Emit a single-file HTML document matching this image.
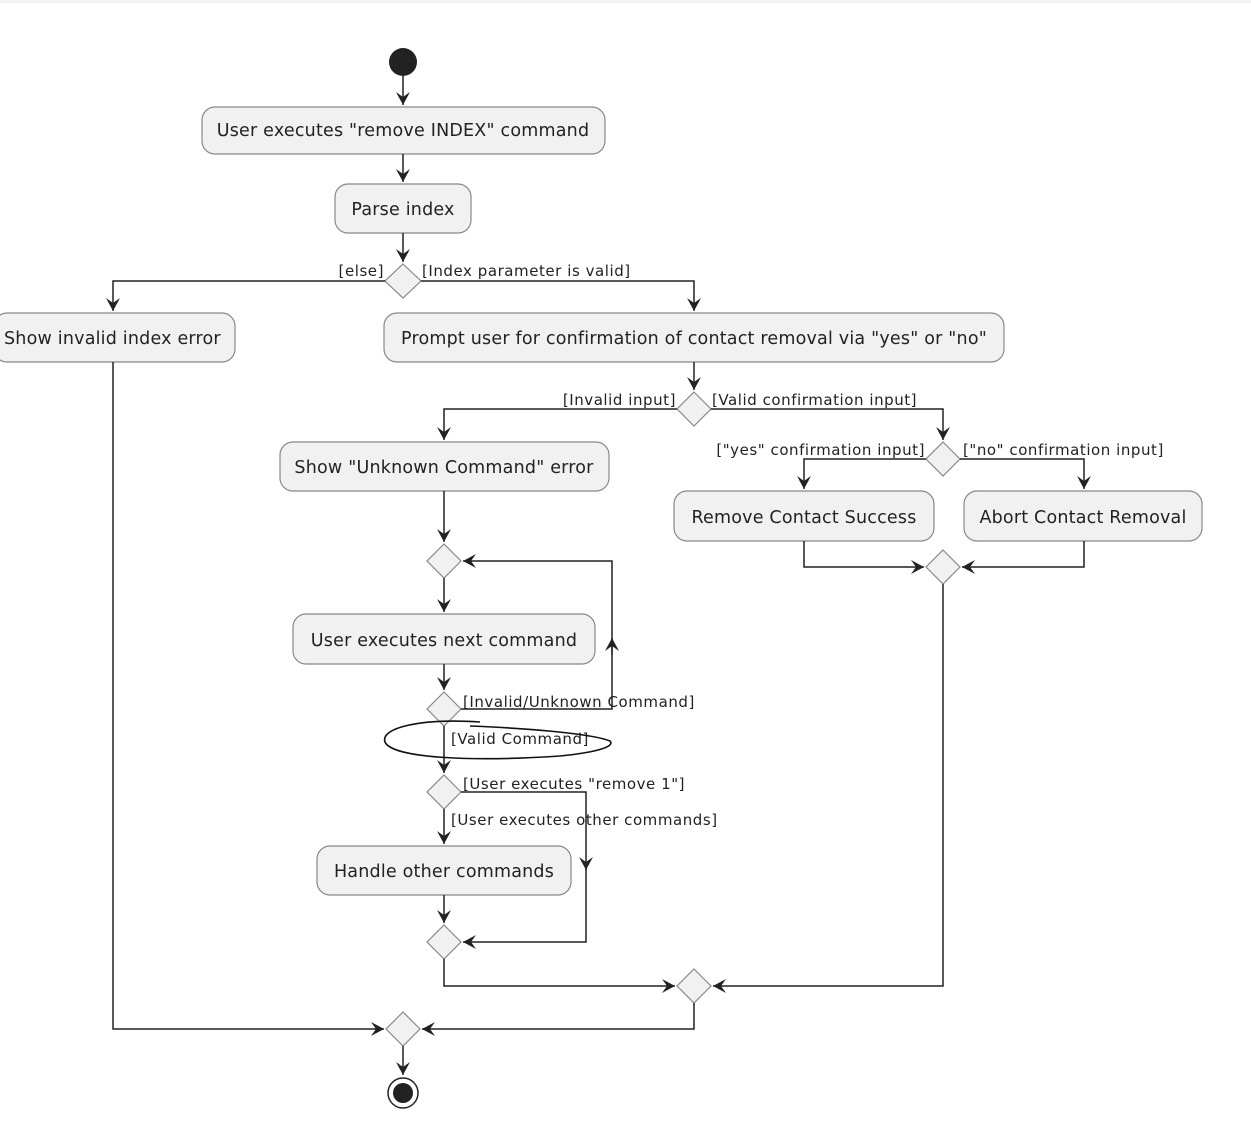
<!DOCTYPE html>
<html><head><meta charset="utf-8"><style>
html,body{margin:0;padding:0;background:#fff;}
svg text{font-family:"DejaVu Sans","Liberation Sans",sans-serif;fill:#222;}
.b{fill:#f1f1f1;stroke:#888;stroke-width:1.2;}
.d{fill:#f1f1f1;stroke:#888;stroke-width:1.2;}
.l{fill:none;stroke:#222;stroke-width:1.5;}
.t{font-size:17.5px;letter-spacing:0.2px;}
.s{font-size:15px;letter-spacing:0.55px;}
</style></head><body>
<svg width="1251" height="1128" viewBox="0 0 1251 1128" xmlns="http://www.w3.org/2000/svg">
<defs><marker id="a" markerWidth="16" markerHeight="16" refX="13" refY="7" orient="auto" markerUnits="userSpaceOnUse"><path d="M0,0 L13,7 L0,14 L5,7 Z" fill="#222"/></marker></defs>
<rect x="0" y="0" width="1251" height="3" fill="#f3f3f3"/>
<circle cx="403" cy="62" r="14" fill="#222"/>
<path class="l" d="M403,76 V105" marker-end="url(#a)"/>
<rect class="b" x="202" y="107" width="403" height="47" rx="13"/>
<text class="t" x="403" y="136" text-anchor="middle">User executes "remove INDEX" command</text>
<path class="l" d="M403,154 V182" marker-end="url(#a)"/>
<rect class="b" x="335" y="184" width="136" height="49" rx="13"/>
<text class="t" x="403" y="215" text-anchor="middle">Parse index</text>
<path class="l" d="M403,233 V262" marker-end="url(#a)"/>
<polygon class="d" points="403,264 421,281 403,298 385,281"/>
<path class="l" d="M385,281 H113 V311" marker-end="url(#a)"/>
<path class="l" d="M421,281 H694 V311" marker-end="url(#a)"/>
<text class="s" x="384" y="276" text-anchor="end">[else]</text>
<text class="s" x="422" y="276">[Index parameter is valid]</text>
<rect class="b" x="-6" y="313" width="241" height="49" rx="13"/>
<text class="t" x="4" y="344">Show invalid index error</text>
<rect class="b" x="384" y="313" width="620" height="49" rx="13"/>
<text class="t" x="694" y="344" text-anchor="middle">Prompt user for confirmation of contact removal via "yes" or "no"</text>
<path class="l" d="M694,362 V390" marker-end="url(#a)"/>
<polygon class="d" points="694,392 711,409 694,426 677,409"/>
<path class="l" d="M677,409 H444 V440" marker-end="url(#a)"/>
<path class="l" d="M711,409 H943 V440" marker-end="url(#a)"/>
<text class="s" x="676" y="405" text-anchor="end">[Invalid input]</text>
<text class="s" x="712" y="405">[Valid confirmation input]</text>
<polygon class="d" points="943,442 960,459 943,476 926,459"/>
<path class="l" d="M926,459 H804 V489" marker-end="url(#a)"/>
<path class="l" d="M960,459 H1084 V489" marker-end="url(#a)"/>
<text class="s" x="925" y="455" text-anchor="end">["yes" confirmation input]</text>
<text class="s" x="963" y="455">["no" confirmation input]</text>
<rect class="b" x="280" y="442" width="329" height="49" rx="13"/>
<text class="t" x="444" y="473" text-anchor="middle">Show "Unknown Command" error</text>
<rect class="b" x="674" y="491" width="260" height="50" rx="13"/>
<text class="t" x="804" y="523" text-anchor="middle">Remove Contact Success</text>
<rect class="b" x="964" y="491" width="238" height="50" rx="13"/>
<text class="t" x="1083" y="523" text-anchor="middle">Abort Contact Removal</text>
<polygon class="d" points="943,550 960,567 943,584 926,567"/>
<path class="l" d="M804,541 V567 H924" marker-end="url(#a)"/>
<path class="l" d="M1084,541 V567 H962" marker-end="url(#a)"/>
<path class="l" d="M943,584 V986 H713" marker-end="url(#a)"/>
<path class="l" d="M444,491 V542" marker-end="url(#a)"/>
<polygon class="d" points="444,544 461,561 444,578 427,561"/>
<path class="l" d="M444,578 V612" marker-end="url(#a)"/>
<rect class="b" x="293" y="614" width="302" height="50" rx="13"/>
<text class="t" x="444" y="646" text-anchor="middle">User executes next command</text>
<path class="l" d="M444,664 V690" marker-end="url(#a)"/>
<polygon class="d" points="444,692 461,709 444,726 427,709"/>
<path class="l" d="M461,709 H612 V640"/>
<path class="l" d="M612,655 V638" marker-end="url(#a)"/>
<path class="l" d="M612,640 V561 H463" marker-end="url(#a)"/>
<text class="s" x="463" y="707">[Invalid/Unknown Command]</text>
<path class="l" d="M444,726 V773" marker-end="url(#a)"/>
<text class="s" x="451" y="744">[Valid Command]</text>
<path d="M480,722 C420,718 380,728 385,742 C392,758 470,762 560,756 C600,752 615,746 610,741 C590,733 520,728 470,726" fill="none" stroke="#111" stroke-width="1.6"/>
<polygon class="d" points="444,775 461,792 444,809 427,792"/>
<path class="l" d="M461,792 H586 V870" marker-end="url(#a)"/>
<path class="l" d="M586,868 V942 H463" marker-end="url(#a)"/>
<text class="s" x="463" y="789">[User executes "remove 1"]</text>
<path class="l" d="M444,809 V844" marker-end="url(#a)"/>
<text class="s" x="451" y="825">[User executes other commands]</text>
<rect class="b" x="317" y="846" width="254" height="49" rx="13"/>
<text class="t" x="444" y="877" text-anchor="middle">Handle other commands</text>
<path class="l" d="M444,895 V923" marker-end="url(#a)"/>
<polygon class="d" points="444,925 461,942 444,959 427,942"/>
<path class="l" d="M444,959 V986 H675" marker-end="url(#a)"/>
<polygon class="d" points="694,969 711,986 694,1003 677,986"/>
<path class="l" d="M694,1003 V1029 H422" marker-end="url(#a)"/>
<path class="l" d="M113,362 V1029 H384" marker-end="url(#a)"/>
<polygon class="d" points="403,1012 420,1029 403,1046 386,1029"/>
<path class="l" d="M403,1046 V1075" marker-end="url(#a)"/>
<circle cx="403" cy="1093" r="15" fill="#fff" stroke="#222" stroke-width="1.5"/>
<circle cx="403" cy="1093" r="10" fill="#222"/>
</svg>
</body></html>
